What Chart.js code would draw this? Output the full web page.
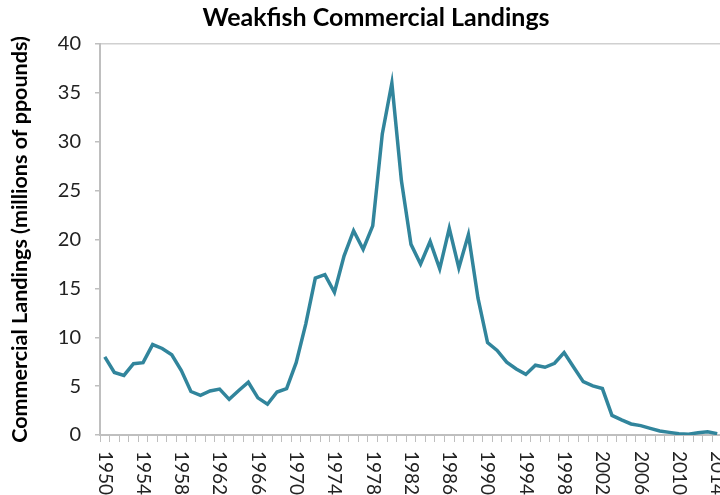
<!DOCTYPE html>
<html>
<head>
<meta charset="utf-8">
<script src="https://cdn.jsdelivr.net/npm/chart.js@4.4.0/dist/chart.umd.min.js"></script>
<style>
  html, body { margin: 0; padding: 0; background: #fff; overflow: hidden; }
  #wrap { width: 750px; height: 495px; }
</style>
</head>
<body>
<div id="wrap"><canvas id="c" width="750" height="495"></canvas></div>
<script>
const years = [];
for (let y = 1950; y <= 2014; y++) years.push(String(y));

const landings = [
  8.0, 6.4, 6.1, 7.3, 7.4, 9.25, 8.85, 8.2, 6.6, 4.45,
  4.05, 4.5, 4.7, 3.65, 4.55, 5.4, 3.8, 3.15, 4.4, 4.75,
  7.4, 11.35, 16.05, 16.4, 14.6, 18.3, 20.9, 19.0, 21.4, 30.8,
  36.0, 26.0, 19.5, 17.5, 19.8, 17.0, 21.15, 17.1, 20.5, 14.0,
  9.45, 8.65, 7.45, 6.75, 6.2, 7.14, 6.93, 7.34, 8.43, 6.93,
  5.46, 5.02, 4.75, 2.0, 1.54, 1.13, 0.96, 0.68, 0.41, 0.27,
  0.14, 0.07, 0.24, 0.34, 0.14
];

const xTickLabels = ['1950','1954','1958','1962','1966','1970','1974','1978','1982','1986','1990','1994','1998','2002','2006','2010','2014'];
const yTickValues = [0, 5, 10, 15, 20, 25, 30, 35, 40];

const FONT = 'Lato';
const axisGray = '#bfbfbf';

const rotatedXLabels = {
  id: 'rotatedXLabels',
  afterDraw(chart) {
    const xs = chart.scales.x;
    const ctx = chart.ctx;
    ctx.save();
    ctx.font = '19px ' + FONT;
    ctx.fillStyle = '#222';
    ctx.textAlign = 'left';
    ctx.textBaseline = 'middle';
    xs.ticks.forEach((t, i) => {
      const lab = years[i];
      if (xTickLabels.indexOf(lab) < 0) return;
      const x = xs.getPixelForTick(i);
      ctx.save();
      ctx.translate(x, xs.top + 16);
      ctx.rotate(Math.PI / 2);
      ctx.fillText(lab, 0, 0);
      ctx.restore();
    });
    ctx.restore();
  }
};

new Chart(document.getElementById('c'), {
  type: 'line',
  data: {
    labels: years,
    datasets: [{
      data: landings,
      borderColor: '#31859c',
      borderWidth: 3.5,
      pointRadius: 0,
      tension: 0,
      fill: false
    }]
  },
  options: {
    responsive: false,
    animation: false,
    layout: { padding: { left: 30, right: 28, top: 0, bottom: 0 } },
    plugins: {
      legend: { display: false },
      tooltip: { enabled: false },
      title: {
        display: true,
        text: 'Weakfish Commercial Landings',
        color: '#000',
        font: { family: FONT, size: 25, weight: 'bold', lineHeight: 1.2 },
        padding: { top: 3, bottom: 11 }
      }
    },
    scales: {
      x: {
        type: 'category',
        offset: true,
        grid: { offset: true, drawOnChartArea: false, tickColor: axisGray, tickLength: 7, tickWidth: 1 },
        border: { color: axisGray, width: 2 },
        ticks: { autoSkip: false, minRotation: 90, maxRotation: 90, color: 'rgba(0,0,0,0)', font: { family: FONT, size: 19 } },
        afterFit(s) { s.height = 60; }
      },
      y: {
        min: 0,
        max: 40,
        afterBuildTicks(s) { s.ticks = yTickValues.map(v => ({ value: v })); },
        ticks: { color: '#222', padding: 14, font: { family: FONT, size: 20 } },
        grid: {
          color: (c) => (c.tick && c.tick.value === 40) ? '#d0d0d0' : 'rgba(0,0,0,0)',
          tickColor: axisGray,
          tickLength: 5,
          lineWidth: 1.5
        },
        border: { color: axisGray, width: 2 },
        title: {
          display: true,
          text: 'Commercial Landings (millions of ppounds)',
          color: '#000',
          font: { family: FONT, size: 21.5, weight: 'bold', lineHeight: 1.2 },
          padding: { top: -23, bottom: 0 }
        },
        afterFit(s) { s.width = 70; }
      }
    }
  },
  plugins: [rotatedXLabels]
});
</script>
</body>
</html>
